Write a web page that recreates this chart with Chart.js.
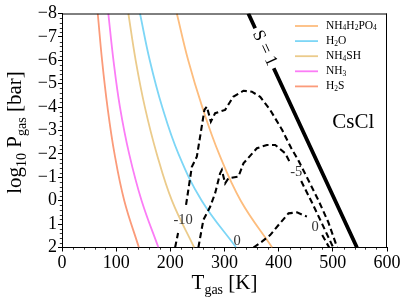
<!DOCTYPE html>
<html><head><meta charset="utf-8">
<script src="https://cdn.jsdelivr.net/npm/chart.js@4"></script>
<style>html,body{margin:0;padding:0;background:#fff}</style>
</head><body><canvas id="c" width="407" height="304"></canvas>
<script>
// ---- data ----
const pressureLevels = [-8, -6, -4, -2, 0, 2];
const tNH4H2PO4 = [212, 233, 259, 290, 330, 388];
const tH2O      = [144, 162, 185, 215, 258, 321.5];
const tNH4SH    = [122.5, 136, 153, 175, 203, 244];
const tNH3      = [85.5, 95, 107, 124, 147, 178];
const tH2S      = [66, 74, 84, 97, 115, 142];
const curveNames = ['NH_4H_2PO_4', 'H_2O', 'NH_4SH', 'NH_3', 'H_2S'];

const s1T = [344, 356.6, null, 390.9, 544.5];
const s1P = [-8, -7.37, null, -5.66, 2];

const cm10T = [208.8, 214.3, null, 229, 239.7, 248.9, 255, 262.9, 267.4, 274.8, 282.7, 301.2, 316, 335, 350.5, 365.9, 384.3, 406.5, 423.1, 436, 450.9, 473.1, 491.5, 508.1];
const cm10P = [2.0, 1.38, null, 0.18, -1.45, -1.88, -2.74, -3.88, -4.02, -3.38, -3.74, -3.88, -4.44, -4.70, -4.66, -4.44, -3.88, -3.02, -2.25, -1.74, -1.06, -0.03, 0.91, 2.0];
const cm5T = [251.8, 261, 273.5, 282.7, 291.9, 295.1, 301.2, 307.3, 325.8, 335, 359.8, 378.2, 393.6, 412, 421.3, null, 441.6, 461.9, 480.4, 500.7];
const cm5P = [2.0, 0.82, 0.26, -0.32, -1.17, -1.31, -0.74, -0.96, -1.03, -1.60, -2.24, -2.38, -2.38, -2.03, -1.61, null, -0.84, 0.10, 1.0, 2.0];
const c0T = [353.5, 369, 384.3, 399.7, 418.2, 433.7, 452.1, null, 480.4, 493.3];
const c0P = [2.0, 1.75, 1.47, 1.04, 0.54, 0.50, 0.68, null, 1.47, 2.0];

const contourLabelText = ['-10', '-5', '0', '0'];
const contourLabelT = [223.6, 432.4, 467.5, 323.4];
const contourLabelP = [0.82, -1.23, 1.12, 1.74];

const xTicks = [0, 100, 200, 300, 400, 500, 600];
const yTicks = [-8, -7, -6, -5, -4, -3, -2, -1, 0, 1, 2];

// ---- helpers ----
const FONT = "'Liberation Serif', 'DejaVu Serif', serif";
function pts(xs, ys) { return xs.map((x, i) => (ys[i] === null ? {x: null, y: null} : {x: x, y: ys[i]})); }
function parseRich(s) {
  const segs = []; let i = 0;
  while (i < s.length) {
    if (s[i] === '_') { segs.push({t: s[i + 1], sub: true}); i += 2; }
    else {
      let j = i; while (j < s.length && s[j] !== '_') j++;
      segs.push({t: s.slice(i, j), sub: false}); i = j;
    }
  }
  return segs;
}
function richWidth(ctx, segs, size, subSize) {
  let w = 0;
  segs.forEach(s => { ctx.font = (s.sub ? subSize : size) + 'px ' + FONT; w += ctx.measureText(s.t).width; });
  return w;
}
function drawRich(ctx, segs, x, y, size, subSize, drop) {
  let cx = x;
  segs.forEach(s => {
    ctx.font = (s.sub ? subSize : size) + 'px ' + FONT;
    ctx.fillText(s.t, cx, s.sub ? y + drop : y);
    cx += ctx.measureText(s.t).width;
  });
}

const curveColors = ['#fdbd7e', '#7dd6f6', '#ebcb8b', '#fb7cf6', '#fb9b7a'];
const curveT = [tNH4H2PO4, tH2O, tNH4SH, tNH3, tH2S];

const datasets = [
  {label: 'S=1', data: pts(s1T, s1P), borderColor: '#000', borderWidth: 3.8},
  {label: '-10', data: pts(cm10T, cm10P), borderColor: '#000', borderWidth: 2.1, borderDash: [6, 3.5]},
  {label: '-5', data: pts(cm5T, cm5P), borderColor: '#000', borderWidth: 2.1, borderDash: [6, 3.5]},
  {label: '0', data: pts(c0T, c0P), borderColor: '#000', borderWidth: 2.1, borderDash: [6, 3.5]},
];
curveNames.forEach((n, i) => datasets.push({label: n, data: pts(curveT[i], pressureLevels), borderColor: curveColors[i], borderWidth: 1.8, tension: 0.4, isCurve: true}));
datasets.forEach(d => { d.showLine = true; d.pointRadius = 0; d.fill = false; d.clip = 0; });

const decor = {
  id: 'decor',
  afterDatasetsDraw(chart) {
    const ctx = chart.ctx, a = chart.chartArea, xs = chart.scales.x, ys = chart.scales.y;
    ctx.save();
    // frame top/right
    ctx.strokeStyle = '#000'; ctx.lineWidth = 1;
    ctx.beginPath();
    ctx.moveTo(a.left, a.top + 0.5); ctx.lineTo(a.right, a.top + 0.5);
    ctx.moveTo(a.right - 0.5, a.top); ctx.lineTo(a.right - 0.5, a.bottom);
    ctx.stroke();
    // minor ticks
    ctx.lineWidth = 0.8;
    ctx.beginPath();
    for (let v = 0; v <= 600; v += 20) {
      if (v % 100 === 0) continue;
      const px = Math.round(xs.getPixelForValue(v)) + 0.5;
      ctx.moveTo(px, a.bottom); ctx.lineTo(px, a.bottom + 2.2);
    }
    for (let k = -40; k <= 10; k++) {
      if (k % 5 === 0) continue;
      const py = Math.round(ys.getPixelForValue(k / 5)) + 0.5;
      ctx.moveTo(a.left, py); ctx.lineTo(a.left - 2.2, py);
    }
    ctx.stroke();
    // contour labels
    ctx.fillStyle = '#333'; ctx.font = '14.5px ' + FONT; ctx.textAlign = 'center'; ctx.textBaseline = 'middle';
    contourLabelText.forEach((t, i) => ctx.fillText(t, xs.getPixelForValue(contourLabelT[i]), ys.getPixelForValue(contourLabelP[i])));
    // S = 1 label along line
    const x1 = xs.getPixelForValue(s1T[0]), y1 = ys.getPixelForValue(s1P[0]);
    const x2 = xs.getPixelForValue(s1T[4]), y2 = ys.getPixelForValue(s1P[4]);
    const ang = Math.atan2(y2 - y1, x2 - x1);
    const mx = (xs.getPixelForValue(s1T[1]) + xs.getPixelForValue(s1T[3])) / 2;
    const my = (ys.getPixelForValue(s1P[1]) + ys.getPixelForValue(s1P[3])) / 2;
    ctx.save(); ctx.translate(mx, my); ctx.rotate(ang);
    ctx.fillStyle = '#000'; ctx.font = '17.5px ' + FONT; ctx.fillText('S = 1', 0, 0);
    ctx.restore();
    // CsCl
    ctx.fillStyle = '#000'; ctx.font = '21px ' + FONT;
    ctx.fillText('CsCl', xs.getPixelForValue(537.7), ys.getPixelForValue(-3.36));
    // legend
    ctx.textAlign = 'left'; ctx.textBaseline = 'middle';
    chart.data.datasets.filter(d => d.isCurve).forEach((d, i) => {
      const ly = 26 + i * 15.1;
      ctx.strokeStyle = d.borderColor; ctx.lineWidth = 1.8;
      ctx.beginPath(); ctx.moveTo(295, ly); ctx.lineTo(318, ly); ctx.stroke();
      ctx.fillStyle = '#000';
      drawRich(ctx, parseRich(d.label), 326, ly, 11.5, 7.5, 2.5);
    });
    // axis titles
    ctx.textBaseline = 'alphabetic';
    const xt = [{t: 'T', sub: false}, {t: 'gas', sub: true}, {t: ' [K]', sub: false}];
    const xw = richWidth(ctx, xt, 21, 14);
    drawRich(ctx, xt, (a.left + a.right) / 2 - xw / 2, 289, 21, 14, 4.5);
    const yt = [{t: 'log', sub: false}, {t: '10', sub: true}, {t: ' P', sub: false}, {t: 'gas', sub: true}, {t: ' [bar]', sub: false}];
    const yw = richWidth(ctx, yt, 21, 14);
    ctx.save(); ctx.translate(21, (a.top + a.bottom) / 2 + 2); ctx.rotate(-Math.PI / 2);
    drawRich(ctx, yt, -yw / 2, 0, 21, 14, 4.5);
    ctx.restore();
    ctx.restore();
  }
};

Chart.defaults.font.family = FONT;
Chart.defaults.color = '#000';
new Chart(document.getElementById('c'), {
  type: 'scatter',
  data: {datasets: datasets},
  options: {
    responsive: false, animation: false, devicePixelRatio: 1,
    layout: {padding: {left: 0, right: 20, top: 13.5, bottom: 0}},
    plugins: {legend: {display: false}, tooltip: {enabled: false}},
    scales: {
      x: {
        type: 'linear', min: 0, max: 600,
        afterBuildTicks: s => { s.ticks = xTicks.map(v => ({value: v})); },
        afterFit: s => { s.height = 56.5; },
        ticks: {font: {size: 18}, padding: 1, autoSkip: false, maxRotation: 0, callback: v => String(v)},
        grid: {drawOnChartArea: false, drawTicks: true, tickLength: 4, color: '#000'},
        border: {display: true, color: '#000', width: 1}
      },
      y: {
        type: 'linear', min: -8, max: 2, reverse: true,
        afterBuildTicks: s => { s.ticks = yTicks.map(v => ({value: v})); },
        afterFit: s => { s.width = 62; },
        ticks: {font: {size: 18}, padding: 1, autoSkip: false, callback: v => (v < 0 ? '\u2212' + Math.abs(v) : String(v))},
        grid: {drawOnChartArea: false, drawTicks: true, tickLength: 4, color: '#000'},
        border: {display: true, color: '#000', width: 1}
      }
    }
  },
  plugins: [decor]
});
</script>
</body></html>
